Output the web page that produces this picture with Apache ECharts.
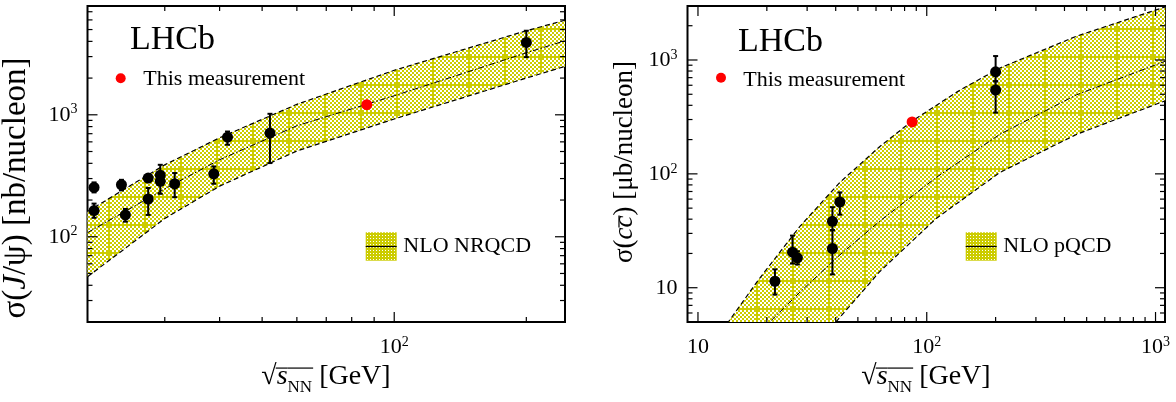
<!DOCTYPE html>
<html><head><meta charset="utf-8">
<script src="https://cdn.jsdelivr.net/npm/echarts@6/dist/echarts.min.js"></script>
<style>html,body{margin:0;padding:0;background:#fff}#c{width:1176px;height:402px}</style>
</head><body><div id="c"></div>
<script>
// ---------------- DATA: left panel, J/psi ----------------
const jpsiX  = [20.7, 20.7, 23.9, 24.4, 27.5, 27.5, 29.3, 29.3, 31.6, 38.8, 41.7, 52.1, 200];
const jpsiY  = [254, 164, 267, 151, 303, 204, 320, 285, 272, 328, 656, 708, 3917];
const jpsiLo = [231, 143, 240, 133, 288, 151, 280, 225, 211, 272, 568, 402, 2970];
const jpsiHi = [279, 187, 293, 169, 320, 251, 389, 330, 333, 377, 729, 1019, 4890];
const jpsiThisX = [86.6];
const jpsiThisY = [1210];
const nrqcdX   = [20, 30, 40, 60, 100, 200, 245];
const nrqcdUp  = [161, 389, 648, 1219, 2317, 4890, 5957];
const nrqcdMid = [108, 247, 428, 813, 1432, 3222, 4045];
const nrqcdLow = [47, 141, 260, 505, 924, 2000, 2494];
// ---------------- DATA: right panel, c cbar ----------------
const ccX  = [21.7, 25.9, 27.2, 38.7, 38.7, 41.7, 200, 200];
const ccY  = [11.4, 20.5, 18.3, 38.3, 22.1, 56.6, 788, 545];
const ccLo = [8.7, 16.3, 16.0, 32, 13.1, 43.8, 650, 345];
const ccHi = [14.5, 28.7, 20.9, 51, 32, 68.7, 1083, 650];
const ccThisX = [86.3];
const ccThisY = [286];
const pqcdUpX  = [10.17, 13.67, 18.6, 27.9, 41.7, 62.4, 86.3, 140, 209, 451, 1102];
const pqcdUp   = [2.16, 5.1, 12.1, 34.6, 84.1, 174, 291, 546, 851, 1618, 2924];
const pqcdMidX = [15.2, 20.8, 27.9, 41.7, 62.4, 110, 209, 451, 1102];
const pqcdMid  = [2.64, 5.1, 9.15, 19.4, 38.5, 92.9, 223, 494, 975];
const pqcdLowX = [27.9, 40.4, 62.4, 110, 209, 451, 1102];
const pqcdLow  = [2.1, 5.1, 13.9, 40.6, 103, 222, 438];
// ---------------- axis ranges & tick values ----------------
const leftXRange = [20, 245], leftYRange = [20, 7800];
const rightXRange = [9, 1100], rightYRange = [5, 2980];
const leftXMajor = [100], leftXMinor = [30,40,50,60,70,80,90,200];
const leftYMajor = [100, 1000], leftYMinor = [30,40,50,60,70,80,90,200,300,400,500,600,700,800,900,2000,3000,4000,5000,6000,7000];
const rightXMajor = [10, 100, 1000], rightXMinor = [20,30,40,50,60,70,80,90,200,300,400,500,600,700,800,900];
const rightYMajor = [10, 100, 1000], rightYMinor = [6,7,8,9,20,30,40,50,60,70,80,90,200,300,400,500,600,700,800,900,2000];

const SERIF = '"Liberation Serif", "Times New Roman", serif';
const YEL = '#cccc00';

function bandPattern() {
  const c = document.createElement('canvas'); c.width = 36; c.height = 28;
  const g = c.getContext('2d');
  g.fillStyle = '#fff'; g.fillRect(0, 0, 36, 28);
  g.fillStyle = YEL;
  for (let y = 0; y < 28; y += 2) for (let x = 0; x < 36; x += 2) if (((x + y) / 2) % 2 === 0) g.fillRect(x, y, 2, 2);
  g.fillRect(0, 0, 2, 28); g.fillRect(0, 0, 36, 2);
  return { image: c, repeat: 'repeat' };
}
function legendPattern() {
  const c = document.createElement('canvas'); c.width = 3; c.height = 3;
  const g = c.getContext('2d');
  g.fillStyle = YEL; g.fillRect(0, 0, 3, 3);
  g.fillStyle = '#fff'; g.fillRect(1, 1, 1, 1);
  return { image: c, repeat: 'repeat' };
}
const PAT = bandPattern();
const LPAT = legendPattern();

const mctx = document.createElement('canvas').getContext('2d');
function tw(t, font) { mctx.font = font; return mctx.measureText(t).width; }
function fontOf(s, size) { return (s.it ? 'italic ' : '') + (s.size || size) + 'px ' + SERIF; }
function textRow(segs, size, base) {
  let total = 0; segs.forEach(s => { s.w = tw(s.t, fontOf(s, size)); total += s.w; });
  let x = -total / 2; const kids = [];
  segs.forEach(s => {
    const fs = s.size || size;
    const bl = base + (s.dy || 0);
    kids.push({ type: 'text', x: x, y: bl - 0.34 * fs,
      style: { text: s.t, font: fontOf(s, size), fill: '#000', align: 'left', verticalAlign: 'middle', textAlign: 'left', textVerticalAlign: 'middle' } });
    if (s.ov) {
      const oy = base - s.ov * size;
      kids.push({ type: 'line', shape: { x1: x + (s.ovx0 || 0), y1: oy, x2: x + s.w + (s.ovx1 || 0), y2: oy }, style: { stroke: '#000', lineWidth: 1.2 } });
    }
    x += s.w;
  });
  return kids;
}

function powLabel(plainTen) {
  return function (v) {
    const l = Math.log10(v), e = Math.round(l);
    if (Math.abs(l - e) > 1e-6) return '';
    if (e === 1 && plainTen) return '{b|10}';
    return '{b|10}{s|' + e + '}';
  };
}
const labelRich = {
  b: { fontFamily: SERIF, fontSize: 22, color: '#000', lineHeight: 24 },
  s: { fontFamily: SERIF, fontSize: 14, color: '#000', lineHeight: 12, verticalAlign: 'top' }
};

function zip2(a, b) { return a.map((v, i) => [v, b[i]]); }
function zip3(a, b, c) { return a.map((v, i) => [v, b[i], c[i]]); }

function tickData(xMaj, xMin, yMaj, yMin, xr, yr) {
  const d = [];
  xMaj.forEach(v => d.push([v, yr[0], 0]));
  xMin.forEach(v => d.push([v, yr[0], 1]));
  yMaj.forEach(v => d.push([xr[0], v, 2]));
  yMin.forEach(v => d.push([xr[0], v, 3]));
  return d;
}
function tickRender(params, api) {
  const cs = params.coordSys;
  const k = api.value(2);
  const p = api.coord([api.value(0), api.value(1)]);
  const L = (k === 0 || k === 2) ? 10 : 5;
  const st = { stroke: '#000', lineWidth: 1.2 };
  if (k < 2) {
    const b = cs.y + cs.height, t = cs.y;
    return { type: 'group', children: [
      { type: 'line', shape: { x1: p[0], y1: b, x2: p[0], y2: b - L }, style: st },
      { type: 'line', shape: { x1: p[0], y1: t, x2: p[0], y2: t + L }, style: st } ] };
  } else {
    const l = cs.x, r = cs.x + cs.width;
    return { type: 'group', children: [
      { type: 'line', shape: { x1: l, y1: p[1], x2: l + L, y2: p[1] }, style: st },
      { type: 'line', shape: { x1: r, y1: p[1], x2: r - L, y2: p[1] }, style: st } ] };
  }
}
function errRender(params, api) {
  const x = api.value(0);
  const a = api.coord([x, api.value(1)]), b = api.coord([x, api.value(2)]);
  const cap = 2.5, st = { stroke: '#000', lineWidth: 2 };
  return { type: 'group', children: [
    { type: 'line', shape: { x1: a[0], y1: a[1], x2: b[0], y2: b[1] }, style: st },
    { type: 'line', shape: { x1: a[0] - cap, y1: a[1], x2: a[0] + cap, y2: a[1] }, style: st },
    { type: 'line', shape: { x1: b[0] - cap, y1: b[1], x2: b[0] + cap, y2: b[1] }, style: st } ] };
}
function bandRender(ux, uy, lx, ly) {
  return function (params, api) {
    const pts = [];
    ux.forEach((v, i) => pts.push(api.coord([v, uy[i]])));
    for (let i = lx.length - 1; i >= 0; i--) pts.push(api.coord([lx[i], ly[i]]));
    return { type: 'polygon', shape: { points: pts }, style: { fill: PAT } };
  };
}

function panelSeries(idx, d) {
  const ax = { xAxisIndex: idx, yAxisIndex: idx };
  const dash = { color: '#000', width: 1.2, type: [5, 3] };
  return [
    Object.assign({ type: 'custom', clip: true, silent: true, z: 1, data: [[d.upX[0], d.up[0]]], renderItem: bandRender(d.upX, d.up, d.lowX, d.low) }, ax),
    Object.assign({ type: 'line', z: 2, symbol: 'none', clip: true, silent: true, lineStyle: dash, data: zip2(d.upX, d.up) }, ax),
    Object.assign({ type: 'line', z: 2, symbol: 'none', clip: true, silent: true, lineStyle: dash, data: zip2(d.lowX, d.low) }, ax),
    Object.assign({ type: 'line', z: 2, symbol: 'none', clip: true, silent: true, lineStyle: { color: '#000', width: 1, type: [6, 2, 1.5, 2] }, data: zip2(d.midX, d.mid) }, ax),
    Object.assign({ type: 'custom', clip: false, silent: true, z: 5, data: d.ticks, renderItem: tickRender }, ax),
    Object.assign({ type: 'custom', clip: false, silent: true, z: 6, data: zip3(d.px, d.plo, d.phi), renderItem: errRender }, ax),
    Object.assign({ type: 'scatter', z: 7, symbol: 'circle', symbolSize: 11, itemStyle: { color: '#000', opacity: 1 }, data: zip2(d.px, d.py) }, ax),
    Object.assign({ type: 'scatter', z: 7, symbol: 'circle', symbolSize: 11, itemStyle: { color: '#ff0000', opacity: 1 }, data: zip2(d.tx, d.ty) }, ax)
  ];
}

const series = [].concat(
  panelSeries(0, { upX: nrqcdX, up: nrqcdUp, lowX: nrqcdX, low: nrqcdLow, midX: nrqcdX, mid: nrqcdMid,
    ticks: tickData(leftXMajor, leftXMinor, leftYMajor, leftYMinor, leftXRange, leftYRange),
    px: jpsiX, py: jpsiY, plo: jpsiLo, phi: jpsiHi, tx: jpsiThisX, ty: jpsiThisY }),
  panelSeries(1, { upX: pqcdUpX, up: pqcdUp, lowX: pqcdLowX, low: pqcdLow, midX: pqcdMidX, mid: pqcdMid,
    ticks: tickData(rightXMajor, rightXMinor, rightYMajor, rightYMinor, rightXRange, rightYRange),
    px: ccX, py: ccY, plo: ccLo, phi: ccHi, tx: ccThisX, ty: ccThisY })
);

function xAxisOf(i, r, plain) {
  return { gridIndex: i, type: 'log', logBase: 10, min: r[0], max: r[1],
    axisLine: { show: false }, axisTick: { show: false }, splitLine: { show: false }, minorTick: { show: false },
    axisLabel: { formatter: powLabel(plain), rich: labelRich, margin: 13, showMinLabel: false, showMaxLabel: plain ? true : false, hideOverlap: false } };
}
function yAxisOf(i, r, plain) {
  return { gridIndex: i, type: 'log', logBase: 10, min: r[0], max: r[1],
    axisLine: { show: false }, axisTick: { show: false }, splitLine: { show: false }, minorTick: { show: false },
    axisLabel: { formatter: powLabel(plain), rich: labelRich, margin: 10, showMinLabel: false, showMaxLabel: false } };
}

const gridL = { left: 87.5, top: 6, width: 477.5, height: 316 };
const gridR = { left: 687.5, top: 6, width: 477.5, height: 316 };
function gridOf(g) { return Object.assign({ show: true, borderColor: '#000', borderWidth: 2, backgroundColor: 'transparent', containLabel: false }, g); }

const sqrtTitle = [
  { t: '\u221A', size: 28 },
  { t: 's', it: true, ov: 0.64, ovx0: -1 },
  { t: 'NN', size: 17, dy: 7, ov: 0.64, ovx1: 1 },
  { t: ' [GeV]' }
];
function cloneSegs(s) { return s.map(o => Object.assign({}, o)); }
function xTitleGroup(cx, base) {
  return { type: 'group', x: cx, y: base, children: textRow(cloneSegs(sqrtTitle), 28, 0) };
}
const leftYTitle = [ { t: '\u03C3(' }, { t: 'J', it: true }, { t: '/\u03C8) [nb/nucleon]' } ];
const rightYTitle = [ { t: '\u03C3(' }, { t: 'c', it: true }, { t: 'c', it: true, ov: 0.56 }, { t: ') [\u03BCb/nucleon]' } ];

function yTitleGroup(segs, size, cx, cy) {
  return { type: 'group', x: cx, y: cy, rotation: Math.PI / 2, children: textRow(cloneSegs(segs), size, 0.3 * size) };
}
function plainText(t, x, base, size) {
  return { type: 'text', x: x, y: base - 0.34 * size, style: { text: t, font: size + 'px ' + SERIF, fill: '#000', align: 'left', verticalAlign: 'middle', textAlign: 'left', textVerticalAlign: 'middle' } };
}
function legendBox(x, y, w, h) {
  return [
    { type: 'rect', shape: { x: x, y: y, width: w, height: h }, style: { fill: LPAT } },
    { type: 'line', shape: { x1: x, y1: y + h / 2, x2: x + w, y2: y + h / 2 }, style: { stroke: '#000', lineWidth: 1.2 } }
  ];
}

const graphic = [].concat(
  [ xTitleGroup(326, 386), xTitleGroup(926, 386),
    yTitleGroup(leftYTitle, 33, 18, 188),
    yTitleGroup(rightYTitle, 27, 626, 162),
    plainText('LHCb', 130, 51.7, 34), plainText('LHCb', 738, 54, 34),
    { type: 'circle', shape: { cx: 120.7, cy: 78.3, r: 5 }, style: { fill: '#ff0000' } },
    { type: 'circle', shape: { cx: 721, cy: 77.7, r: 5 }, style: { fill: '#ff0000' } },
    plainText('This measurement', 143.3, 87, 22), plainText('This measurement', 743.3, 87.5, 22),
    plainText('NLO NRQCD', 403.3, 253.3, 22), plainText('NLO pQCD', 1003.3, 253.3, 22) ],
  legendBox(365.7, 232.3, 31, 28.4), legendBox(965.7, 232.3, 31, 28.4)
);

const chart = echarts.init(document.getElementById('c'));
chart.setOption({
  animation: false,
  backgroundColor: '#fff',
  grid: [gridOf(gridL), gridOf(gridR)],
  xAxis: [xAxisOf(0, leftXRange, false), xAxisOf(1, rightXRange, true)],
  yAxis: [yAxisOf(0, leftYRange, false), yAxisOf(1, rightYRange, true)],
  series: series,
  graphic: graphic
});
</script>
</body></html>
